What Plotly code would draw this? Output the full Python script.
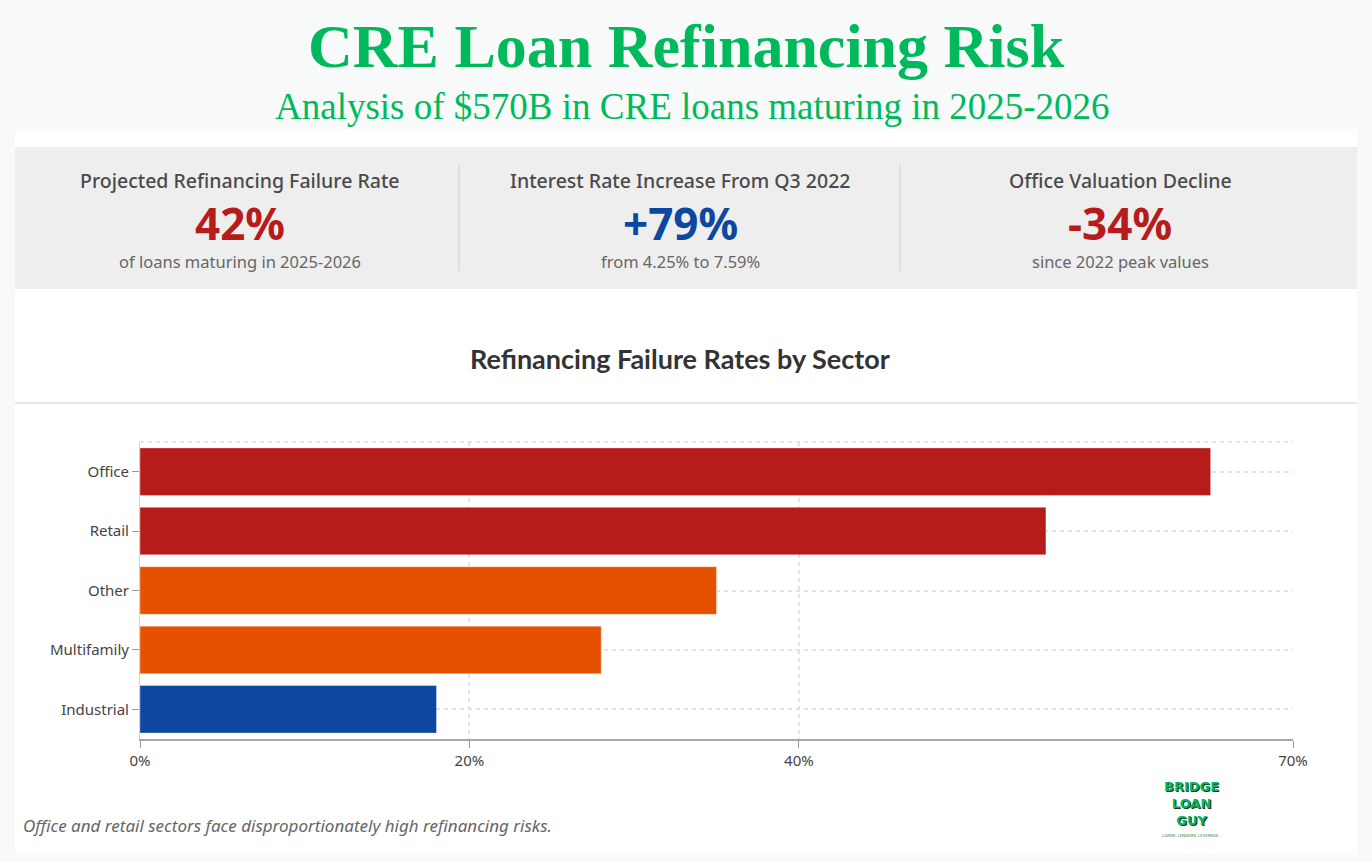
"""CRE loan refinancing risk dashboard rebuilt as a single Plotly figure."""

import plotly.graph_objects as go

W, H = 1372, 862

# --- data -----------------------------------------------------------------
sectors = ["Office", "Retail", "Other", "Multifamily", "Industrial"]
failure_rates = [65, 55, 35, 28, 18]

x_ticks = [0, 20, 40, 70]
x_tick_labels = [f"{v}%" for v in x_ticks]

kpi_labels = [
    "Projected Refinancing Failure Rate",
    "Interest Rate Increase From Q3 2022",
    "Office Valuation Decline",
]
kpi_values = ["42%", "+79%", "-34%"]
kpi_notes = ["of loans maturing in 2025-2026", "from 4.25% to 7.59%", "since 2022 peak values"]

title = "CRE Loan Refinancing Risk"
subtitle = "Analysis of $570B in CRE loans maturing in 2025-2026"
chart_title = "Refinancing Failure Rates by Sector"
footnote = "Office and retail sectors face disproportionately high refinancing risks."
logo_words = ["BRIDGE", "LOAN", "GUY"]
logo_tagline = "LOANS. LENDERS. LEVERAGE."

# --- styling --------------------------------------------------------------
GREEN = "#00b95c"
RED = "#b71c1c"
ORANGE = "#e65100"
BLUE = "#0d47a1"
sector_colors = {"Office": RED, "Retail": RED, "Other": ORANGE, "Multifamily": ORANGE, "Industrial": BLUE}
kpi_colors = [RED, BLUE, RED]
kpi_centers = [240, 680, 1120]
SANS = "Noto Sans, Open Sans, sans-serif"


def px(x: float) -> float:
    return x / W


def py(y: float) -> float:
    return 1 - y / H


def text(fig: go.Figure, s: str, x: float, y: float, size: float, color: str, family: str = SANS,
         xanchor: str = "center", **font_extra) -> None:
    fig.add_annotation(text=s, x=px(x), y=py(y), xref="paper", yref="paper", showarrow=False,
                       xanchor=xanchor, yanchor="middle",
                       font=dict(size=size, color=color, family=family, **font_extra))


def rect(fig: go.Figure, x0, y0, x1, y1, fill: str) -> None:
    fig.add_shape(type="rect", xref="paper", yref="paper", x0=px(x0), x1=px(x1), y0=py(y1), y1=py(y0),
                  fillcolor=fill, line_width=0, layer="below")


fig = go.Figure(
    go.Bar(
        x=failure_rates,
        y=sectors,
        orientation="h",
        marker=dict(color=[sector_colors[s] for s in sectors], line=dict(color="rgba(255,255,255,0.35)", width=1)),
        hoverinfo="x+y",
    )
)

# card backgrounds
rect(fig, 15, 129, 1357, 855, "#ffffff")
rect(fig, 15, 147, 1357, 289, "#eeeeee")
fig.add_shape(type="line", xref="paper", yref="paper", x0=px(15), x1=px(1357), y0=py(403), y1=py(403),
              line=dict(color="#e6e6e6", width=2), layer="below")
for xd in (459, 900):
    fig.add_shape(type="line", xref="paper", yref="paper", x0=px(xd), x1=px(xd), y0=py(165), y1=py(271),
                  line=dict(color="#cfcfcf", width=1))

# dashed top border of the plot area
fig.add_shape(type="line", xref="paper", yref="paper", x0=px(140), x1=px(1293), y0=py(442), y1=py(442),
              line=dict(color="#dedede", width=1.5, dash="4px,4px"))

# headings
text(fig, f"<b>{title}</b>", 686, 46, 62, GREEN, "Liberation Serif, serif")
text(fig, subtitle, 692, 107, 37, GREEN, "Liberation Serif, serif")

for cx, lab, val, note, col in zip(kpi_centers, kpi_labels, kpi_values, kpi_notes, kpi_colors):
    text(fig, lab, cx, 180, 19.5, "#4a4a4a", weight=500)
    text(fig, f"<b>{val}</b>", cx, 223, 44, col)
    text(fig, note, cx, 261, 16.5, "#666666")

text(fig, f"<b>{chart_title}</b>", 680, 358, 27, "#333333", "Lato, sans-serif")
text(fig, f"<i>{footnote}</i>", 21, 825, 17, "#666666", xanchor="left")

# logo
text(fig, "<b>" + "<br>".join(logo_words) + "</b>", 1191, 803, 13, GREEN, "DejaVu Sans, sans-serif",
     shadow="1px 1px 0px #2b2b2b")
text(fig, logo_tagline, 1191, 835, 4, "#1e7a45", "Inter, sans-serif")

grid = dict(showgrid=True, gridcolor="#e2e2e2", gridwidth=1.5, griddash="4px,4px")
fig.update_layout(
    width=W,
    height=H,
    autosize=False,
    margin=dict(l=0, r=0, t=0, b=0, autoexpand=False),
    paper_bgcolor="#f8fafa",
    plot_bgcolor="#ffffff",
    showlegend=False,
    bargap=0.2,
    xaxis=dict(
        domain=[px(140), px(1293)],
        range=[0, 70],
        tickvals=x_ticks,
        ticktext=x_tick_labels,
        ticks="outside",
        ticklen=7,
        tickcolor="#9a9a9a",
        showline=True,
        linecolor="#a8a8a8",
        linewidth=2,
        zeroline=False,
        automargin=False,
        tickfont=dict(size=15, color="#444444", family=SANS),
        **grid,
    ),
    yaxis=dict(
        domain=[py(739), py(442)],
        autorange="reversed",
        ticks="outside",
        ticklen=7,
        tickcolor="#9a9a9a",
        showline=True,
        linecolor="#d0d0d0",
        linewidth=1,
        automargin=False,
        tickfont=dict(size=15, color="#444444", family=SANS),
        **grid,
    ),
)

fig.write_html(
    "out.html",
    config={"displayModeBar": False, "responsive": False},
    post_script="document.body.style.margin='0';document.body.style.overflow='hidden';",
)
